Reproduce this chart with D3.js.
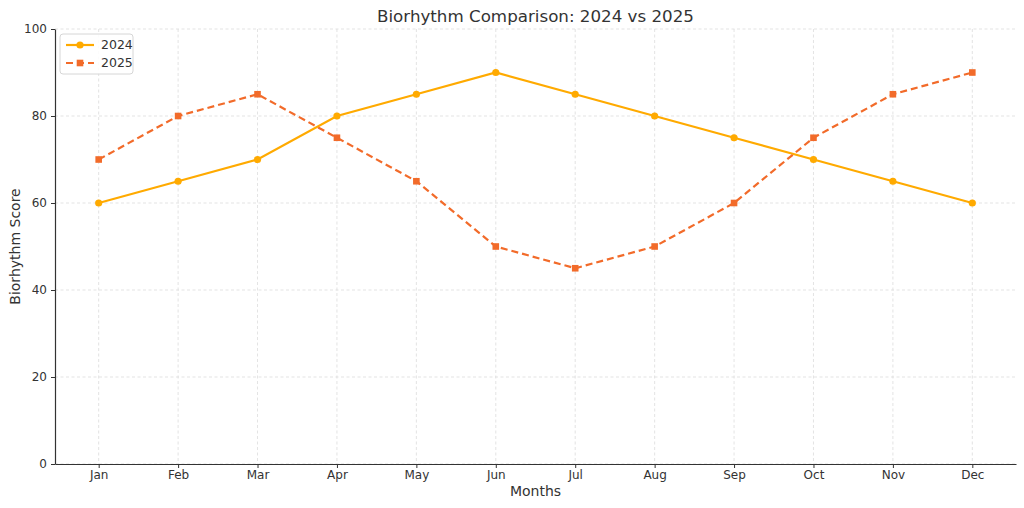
<!DOCTYPE html>
<meta charset="UTF-8">
<style>
body { margin: 0; background: #fff; }
text { font-family: "DejaVu Sans", sans-serif; fill: #333; }
.grid line { stroke: #dcdcdc; stroke-dasharray: 3,2.5; stroke-width: 0.8px; }
.axis path, .axis line { stroke: #333; }
</style>
<body>
<script src="https://d3js.org/d3.v7.min.js"></script>
<script>

var months = ["Jan","Feb","Mar","Apr","May","Jun","Jul","Aug","Sep","Oct","Nov","Dec"];
var values2024 = [60, 65, 70, 80, 85, 90, 85, 80, 75, 70, 65, 60];
var values2025 = [70, 80, 85, 75, 65, 50, 45, 50, 60, 75, 85, 90];
var yTicks = [0, 20, 40, 60, 80, 100];

var margin = {top: 29, right: 8, bottom: 44, left: 55},
    width = 1024 - margin.left - margin.right,
    height = 508 - margin.top - margin.bottom;

var svg = d3.select("body").append("svg")
    .attr("width", 1024)
    .attr("height", 508);

var g = svg.append("g")
    .attr("transform", "translate(" + margin.left + "," + margin.top + ")");

// index scale with matplotlib-like 5% padding
var x = d3.scaleLinear().domain([-0.55, 11.55]).range([0, width]);
var y = d3.scaleLinear().domain([0, 100]).range([height, 0]);

// grid
g.append("g").attr("class", "grid")
  .selectAll("line").data(d3.range(months.length)).enter().append("line")
    .attr("x1", function(d) { return x(d); }).attr("x2", function(d) { return x(d); })
    .attr("y1", 0).attr("y2", height);
g.append("g").attr("class", "grid")
  .selectAll("line").data(yTicks).enter().append("line")
    .attr("x1", 0).attr("x2", width)
    .attr("y1", function(d) { return y(d); }).attr("y2", function(d) { return y(d); });

// axes
var xAxis = g.append("g").attr("class", "axis")
    .attr("transform", "translate(0," + height + ")")
    .call(d3.axisBottom(x).tickValues(d3.range(months.length))
      .tickFormat(function(i) { return months[i]; }).tickSize(4).tickSizeOuter(0).tickPadding(2));
var yAxis = g.append("g").attr("class", "axis")
    .call(d3.axisLeft(y).tickValues(yTicks).tickSize(4).tickSizeOuter(0).tickPadding(4));
g.selectAll(".axis text").style("font-size", "12px").style("fill", "#333");
g.selectAll(".axis path").attr("stroke-width", 1.2);

// lines
var line = d3.line()
    .x(function(d, i) { return x(i); })
    .y(function(d) { return y(d); });

var series = [
  {name: "2024", values: values2024, color: "#ffaa00", dash: null, shape: "circle"},
  {name: "2025", values: values2025, color: "#f26b2a", dash: "7,4", shape: "square"}
];

series.forEach(function(s) {
  g.append("path")
    .datum(s.values)
    .attr("fill", "none")
    .attr("stroke", s.color)
    .attr("stroke-width", 2.2)
    .attr("stroke-dasharray", s.dash)
    .attr("d", line);
  if (s.shape === "circle") {
    g.selectAll(null).data(s.values).enter().append("circle")
      .attr("cx", function(d, i) { return x(i); })
      .attr("cy", function(d) { return y(d); })
      .attr("r", 3.6)
      .attr("fill", s.color);
  } else {
    g.selectAll(null).data(s.values).enter().append("rect")
      .attr("x", function(d, i) { return x(i) - 3.3; })
      .attr("y", function(d) { return y(d) - 3.3; })
      .attr("width", 6.6).attr("height", 6.6)
      .attr("fill", s.color);
  }
});

// legend
var legend = g.append("g").attr("transform", "translate(5,5)");
legend.append("rect")
  .attr("width", 73).attr("height", 40).attr("rx", 3)
  .attr("fill", "#fff").attr("fill-opacity", 0.85)
  .attr("stroke", "#d6d6d6");
series.forEach(function(s, i) {
  var ly = 11 + i * 18;
  legend.append("line")
    .attr("x1", 6).attr("x2", 34).attr("y1", ly).attr("y2", ly)
    .attr("stroke", s.color).attr("stroke-width", 2.2)
    .attr("stroke-dasharray", s.dash);
  if (s.shape === "circle") {
    legend.append("circle").attr("cx", 20).attr("cy", ly).attr("r", 3.6).attr("fill", s.color);
  } else {
    legend.append("rect").attr("x", 16.7).attr("y", ly - 3.3).attr("width", 6.6).attr("height", 6.6).attr("fill", s.color);
  }
  legend.append("text")
    .attr("x", 41).attr("y", ly).attr("dy", "0.35em")
    .style("font-size", "12.5px")
    .text(s.name);
});

// title and labels
svg.append("text")
  .attr("x", margin.left + width / 2).attr("y", 22)
  .attr("text-anchor", "middle")
  .style("font-size", "16.7px")
  .text("Biorhythm Comparison: 2024 vs 2025");

svg.append("text")
  .attr("x", margin.left + width / 2).attr("y", 496)
  .attr("text-anchor", "middle")
  .style("font-size", "14px")
  .text("Months");

svg.append("text")
  .attr("transform", "translate(20," + (margin.top + height / 2) + ") rotate(-90)")
  .attr("text-anchor", "middle")
  .style("font-size", "14px")
  .text("Biorhythm Score");

</script>
</body>
